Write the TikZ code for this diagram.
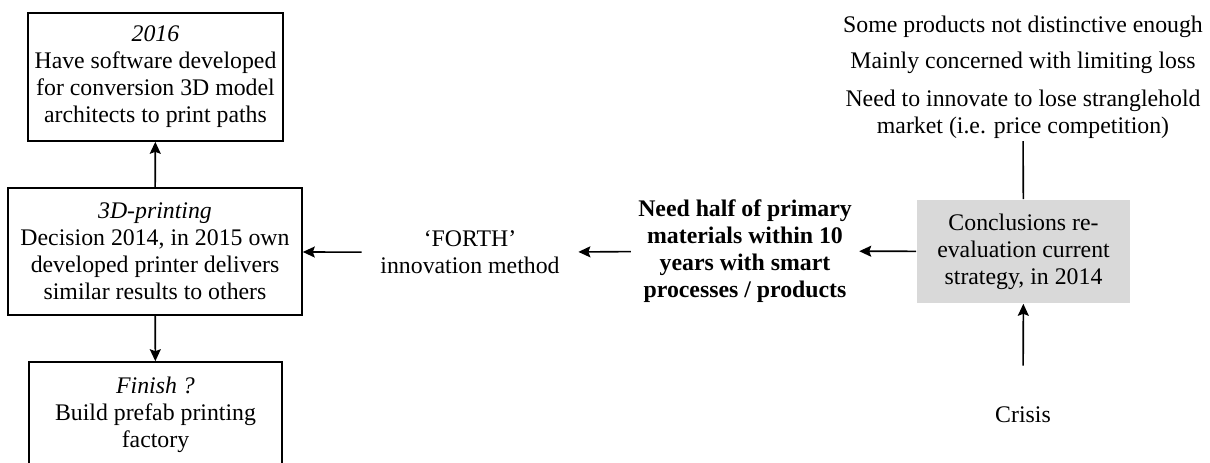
\documentclass[tikz,border=0pt]{standalone}
\usepackage{fontspec}
\setmainfont{Liberation Serif}
\usetikzlibrary{positioning, arrows.meta}
\definecolor{boxgrey}{HTML}{D9D9D9}

\begin{document}
\begin{tikzpicture}[
    x=0.5pt, y=-0.5pt,
    ->, >={Stealth[length=6pt, width=5.5pt, inset=1pt]}, line width=0.8pt,
    every node/.style={font=\fontsize{11.9}{13.5}\selectfont, align=center},
    stepbox/.style={draw, line width=0.8pt, inner sep=0pt},
    greybox/.style={fill=boxgrey, inner sep=0pt}
]
    \path[use as bounding box, clip] (0,0) rectangle (1210,462);

    % Boxes on the left
    \node[stepbox, minimum width=127.5pt, minimum height=64pt] (plan) at (155.5,77)
        {\textit{2016}\\Have software developed\\for conversion 3D model\\architects to print paths};
    \node[stepbox, minimum width=147pt, minimum height=63.5pt] (print) at (155,251.5)
        {\textit{3D-printing}\\Decision 2014, in 2015 own\\developed printer delivers\\similar results to others};
    \node[stepbox, minimum width=126.5pt, minimum height=52.5pt] (finish) at (155.5,414.5)
        {\textit{Finish ?}\\Build prefab printing\\factory};

    % Middle
    \node[inner xsep=9pt] (forth) at (470,252.5) {‘FORTH’\\innovation method};
    \node[font=\fontsize{11.9}{13.5}\selectfont\bfseries] (need) at (745,251)
        {Need half of primary\\materials within 10\\years with smart\\processes / products};

    % Right
    \node[greybox, minimum width=106.5pt, minimum height=51.5pt] (review) at (1023.5,251.5)
        {Conclusions re-\\evaluation current\\strategy, in 2014};
    \node (cause1) at (1023,27) {Some products not distinctive enough};
    \node (cause2) at (1023,63) {Mainly concerned with limiting loss};
    \node[inner ysep=1pt] (cause3) at (1023,114) {Need to innovate to lose stranglehold\\market (i.e. price competition)};
    \node (crisis) at (1023,415) {Crisis};

    % Connectors
    \draw (print) -- (plan);
    \draw (print) -- (finish);
    \draw (forth) -- (print);
    \draw (need) -- (forth);
    \draw (review) -- (need);
    \draw[-] (review) -- (cause3);
    \draw[shorten <=17pt] (crisis) -- (review);

\end{tikzpicture}
\end{document}
